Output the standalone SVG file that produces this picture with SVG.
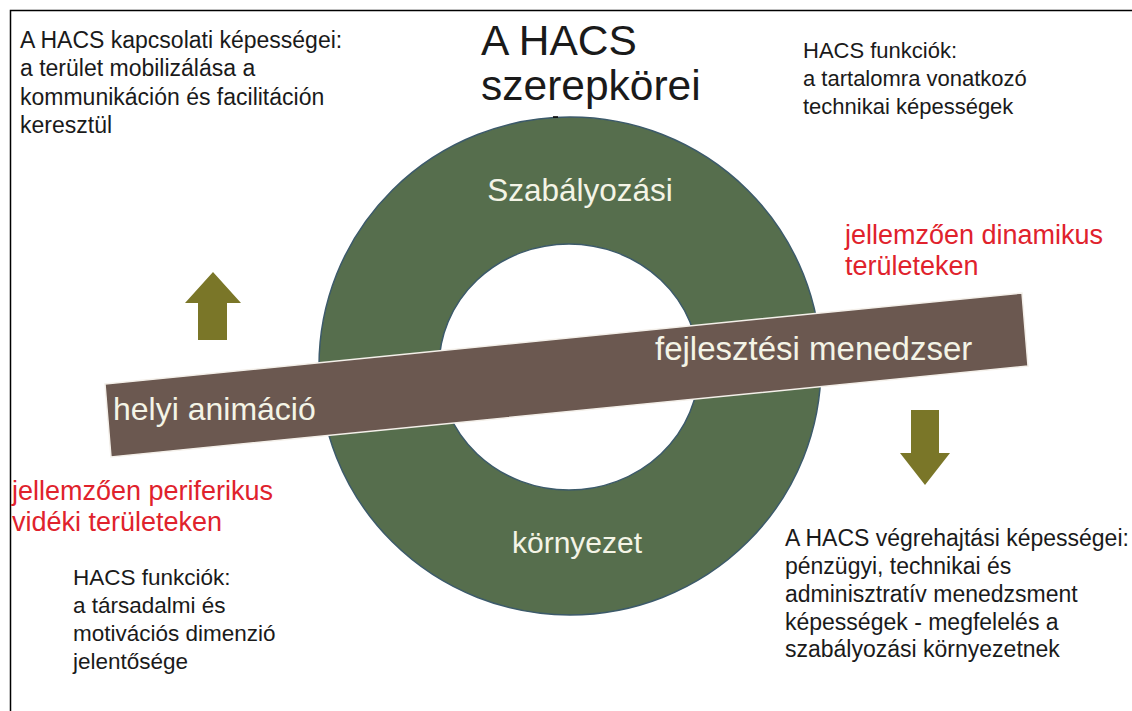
<svg xmlns="http://www.w3.org/2000/svg" width="1132" height="711" viewBox="0 0 1132 711">
<style>
.t{font-family:"Liberation Sans",Arial,sans-serif;fill:#1a1a1a}
.s{font-size:23px}
.r{font-family:"Liberation Sans",Arial,sans-serif;font-size:27px;fill:#e0222c}
.w{font-family:"Liberation Sans",Arial,sans-serif;fill:#f4f4e6}
.arr{fill:#7a7628}
</style>
<rect x="0" y="0" width="1132" height="711" fill="#ffffff"/>
<path d="M10.5 711 V10.5 H1132" fill="none" stroke="#000" stroke-width="1.5"/>
<g id="title">
<text class="t" x="481" y="55" font-size="42.5">A HACS</text>
<text class="t" x="481" y="100" font-size="42.5">szerepkörei</text>
</g>
<g id="ring">
<path d="M319 366 a251 249 0 1 0 502 0 a251 249 0 1 0 -502 0 Z M439 367 a130 123 0 1 0 260 0 a130 123 0 1 0 -260 0 Z" fill="#566e4d" fill-rule="evenodd" stroke="#3c5a6a" stroke-width="1.5"/>
<line x1="553" y1="117" x2="558" y2="117" stroke="#000" stroke-width="1.5"/>
<text class="w" x="580" y="201" font-size="31.5" text-anchor="middle">Szabályozási</text>
<text class="w" x="577" y="553" font-size="30" text-anchor="middle">környezet</text>
</g>
<g id="band">
<polygon points="105,384 1022,293 1028,366 111,457" fill="#6b5850" stroke="#f4f0ea" stroke-width="1.5"/>
<text class="w" x="113" y="420" font-size="32">helyi animáció</text>
<text class="w" x="655" y="360" font-size="33">fejlesztési menedzser</text>
</g>
<g id="connectors">
<polygon class="arr" points="213,272 241,303 227,303 227,340 198,340 198,303 185,303"/>
<polygon class="arr" points="911,410 939,410 939,453 950,453 925,485 900,453 911,453"/>
</g>
<g id="topleft">
<text class="t s" x="20" y="48">A HACS kapcsolati képességei:</text>
<text class="t s" x="20" y="76">a terület mobilizálása a</text>
<text class="t s" x="20" y="105">kommunikáción és facilitáción</text>
<text class="t s" x="20" y="133">keresztül</text>
</g>
<g id="topright">
<text class="t" x="803" y="58" font-size="22">HACS funkciók:</text>
<text class="t" x="803" y="86" font-size="22">a tartalomra vonatkozó</text>
<text class="t" x="803" y="114" font-size="22">technikai képességek</text>
</g>
<g id="red-right">
<text class="r" x="845" y="244">jellemzően dinamikus</text>
<text class="r" x="845" y="275">területeken</text>
</g>
<g id="red-left">
<text class="r" x="12" y="500">jellemzően periferikus</text>
<text class="r" x="12" y="531">vidéki területeken</text>
</g>
<g id="bottomleft">
<text class="t" x="73" y="585" font-size="22.5">HACS funkciók:</text>
<text class="t" x="73" y="613" font-size="22.5">a társadalmi és</text>
<text class="t" x="73" y="641" font-size="22.5">motivációs dimenzió</text>
<text class="t" x="73" y="669" font-size="22.5">jelentősége</text>
</g>
<g id="bottomright">
<text class="t s" x="785" y="546">A HACS végrehajtási képességei:</text>
<text class="t s" x="785" y="574">pénzügyi, technikai és</text>
<text class="t s" x="785" y="602">adminisztratív menedzsment</text>
<text class="t s" x="785" y="630">képességek - megfelelés a</text>
<text class="t s" x="785" y="657">szabályozási környezetnek</text>
</g>
</svg>
